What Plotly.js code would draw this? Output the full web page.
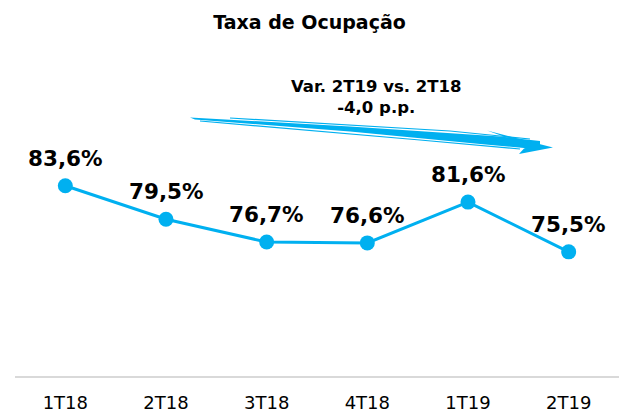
<!DOCTYPE html>
<html><head><meta charset="utf-8">
<script src="https://cdn.plot.ly/plotly-3.0.1.min.js"></script>
<style>body{margin:0;padding:0;background:#fff}#c{width:619px;height:414px}</style>
</head><body><div id="c"></div>
<script>
var categories = ['1T18','2T18','3T18','4T18','1T19','2T19'];
var occupancy = [83.6, 79.5, 76.7, 76.6, 81.6, 75.5];
var valueLabels = ['83,6%','79,5%','76,7%','76,6%','81,6%','75,5%'];
var noteLines = ['Var. 2T19 vs. 2T18', '-4,0 p.p.'];

var W = 619, H = 414;
var M = {l: 15, r: 0, t: 52, b: 38};
var pw = W - M.l - M.r, ph = H - M.t - M.b;
function px(x){ return (x - M.l) / pw; }
function py(y){ return (H - M.b - y) / ph; }
function path(pts){
  return 'M ' + pts.map(function(p){ return px(p[0]).toFixed(4) + ',' + py(p[1]).toFixed(4); }).join(' L ') + ' Z';
}
function line(pts){
  return 'M ' + pts.map(function(p){ return px(p[0]).toFixed(4) + ',' + py(p[1]).toFixed(4); }).join(' L ');
}
var blue = '#00B0F0';

var annotations = categories.map(function(c, i){
  return {x: c, y: occupancy[i], xref: 'x', yref: 'y', text: '<b>' + valueLabels[i] + '</b>',
    showarrow: false, yanchor: 'bottom', yshift: 13,
    font: {family: 'DejaVu Sans', size: 21.5, color: '#000'}};
});
annotations.push({xref: 'paper', yref: 'paper', x: px(377), y: py(97), xanchor: 'center', yanchor: 'middle',
  text: '<b>' + noteLines.join('<br>') + '</b>', showarrow: false,
  font: {family: 'DejaVu Sans', size: 16.5, color: '#000'}});

var shapes = [
  {type: 'path', xref: 'paper', yref: 'paper', line: {width: 0}, fillcolor: blue,
   path: path([[190,117.5],[350,126.5],[500,136.5],[540,141],[540,149.5],[480,144],[350,131.5],[195,119.5]])},
  {type: 'path', xref: 'paper', yref: 'paper', line: {width: 0}, fillcolor: blue,
   path: path([[487,130.5],[553,147.5],[519,154],[524,148.5],[535,145],[505,137]])},
  {type: 'path', xref: 'paper', yref: 'paper', line: {color: blue, width: 1.2}, fillcolor: 'rgba(0,0,0,0)',
   path: line([[200,121],[420,140],[520,149]])},
  {type: 'path', xref: 'paper', yref: 'paper', line: {color: blue, width: 1.2}, fillcolor: 'rgba(0,0,0,0)',
   path: line([[230,118],[450,131],[530,139]])}
];

var trace = {x: categories, y: occupancy, type: 'scatter', mode: 'lines+markers',
  line: {color: blue, width: 3}, marker: {color: blue, size: 15}, hoverinfo: 'skip'};

var layout = {
  width: W, height: H, margin: M, paper_bgcolor: '#fff', plot_bgcolor: '#fff', showlegend: false,
  title: {text: '<b>Taxa de Ocupação</b>', x: 0.5, xanchor: 'center', y: 1 - 22/H, yanchor: 'middle',
    font: {family: 'DejaVu Sans', size: 19, color: '#000'}},
  xaxis: {type: 'category', range: [-0.5, 5.5], showgrid: false, zeroline: false, showline: true,
    linecolor: '#D9D9D9', linewidth: 2, ticks: 'outside', ticklen: 9, tickcolor: 'rgba(0,0,0,0)',
    tickfont: {family: 'DejaVu Sans', size: 18, color: '#000'}, fixedrange: true},
  yaxis: {range: [60.28, 100], visible: false, fixedrange: true},
  annotations: annotations, shapes: shapes
};
Plotly.newPlot('c', [trace], layout, {staticPlot: true, displayModeBar: false});
</script></body></html>
